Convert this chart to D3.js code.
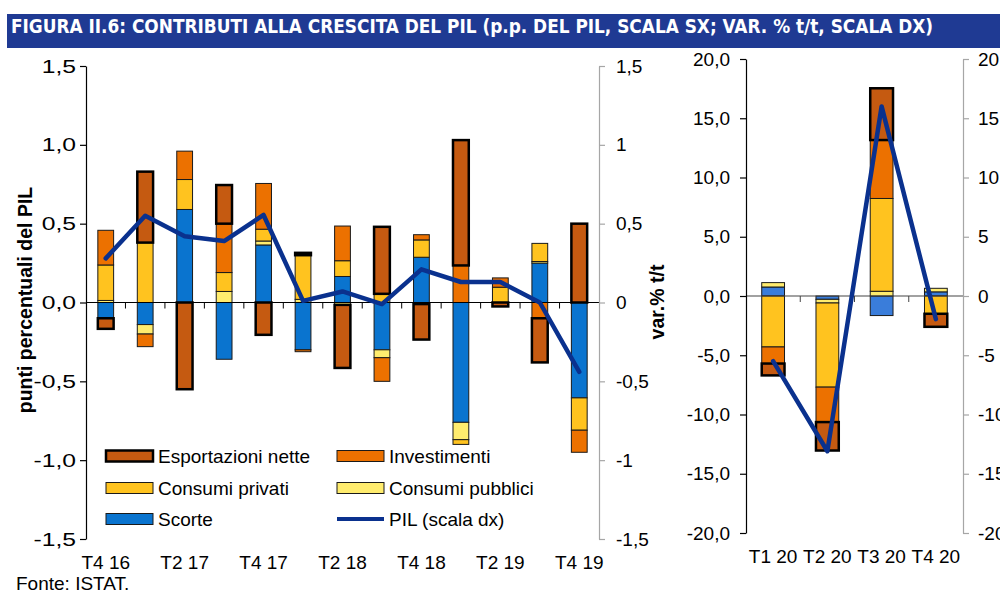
<!DOCTYPE html>
<html>
<head>
<meta charset="utf-8">
<script src="https://cdn.jsdelivr.net/npm/d3@7"></script>
<style>
  body { margin: 0; background: #fff; }
  svg { font-family: "Liberation Sans", Arial, sans-serif; display: block; }
</style>
</head>
<body>
<div id="chart"></div>
<script>
// --- data ---
const quartersLeft = ['T4 16', 'T1 17', 'T2 17', 'T3 17', 'T4 17', 'T1 18', 'T2 18',
                      'T3 18', 'T4 18', 'T1 19', 'T2 19', 'T3 19', 'T4 19'];
const quartersRight = ['T1 20', 'T2 20', 'T3 20', 'T4 20'];

const seriesKeys = ['Scorte', 'Consumi pubblici', 'Consumi privati', 'Investimenti', 'Esportazioni nette'];

const scorteLeft      = [-0.10, -0.14, 0.59, -0.36, 0.365, -0.30, 0.165, -0.30, 0.287, -0.76, 0.0, 0.25, -0.605];
const pubbliciLeft    = [0.013, -0.06, 0.0, 0.07, 0.025, 0.02, -0.015, -0.05, -0.01, -0.11, 0.0, 0.01, 0.0];
const privatiLeft     = [0.225, 0.38, 0.19, 0.12, 0.075, 0.28, 0.10, 0.055, 0.11, -0.03, 0.097, 0.115, -0.205];
const investimLeft    = [0.22, -0.08, 0.18, 0.31, 0.29, -0.012, 0.22, -0.15, 0.033, 0.235, 0.059, -0.10, -0.14];
const esportLeft      = [-0.067, 0.45, -0.55, 0.245, -0.205, 0.015, -0.40, 0.425, -0.225, 0.795, -0.025, -0.28, 0.50];
const pilLeft         = [0.28, 0.55, 0.42, 0.39, 0.555, 0.01, 0.07, -0.01, 0.21, 0.13, 0.13, 0.0, -0.44];

const scorteRight     = [0.76, -0.28, -1.65, 0.35];
const pubbliciRight   = [0.37, -0.31, 0.40, 0.30];
const privatiRight    = [-4.3, -7.1, 7.83, -1.5];
const investimRight   = [-1.4, -2.95, 4.93, 0.0];
const esportRight     = [-1.0, -2.4, 4.37, -1.1];
const pilRight        = [-5.5, -13.1, 16.0, -1.95];

const leftTicks  = [-1.5, -1, -0.5, 0, 0.5, 1, 1.5];
const rightTicks = [-20, -15, -10, -5, 0, 5, 10, 15, 20];

const titleText = 'FIGURA II.6: CONTRIBUTI ALLA CRESCITA DEL PIL (p.p. DEL PIL, SCALA SX; VAR. % t/t, SCALA DX)';

// --- styling ---
const colors = {
  'Scorte': '#0A74CF',
  'Consumi pubblici': '#FFEC6E',
  'Consumi privati': '#FFC31F',
  'Investimenti': '#EC7100',
  'Esportazioni nette': '#C55A11'
};
const pilColor = '#0A318E';
const fontSize = 19;

const itLocale = d3.formatLocale({ decimal: ',', thousands: '.', grouping: [3], currency: ['', '€'], minus: '-' });
const fmtFixed = itLocale.format('.1f');
const fmtGeneral = itLocale.format('~g');

const width = 1000, height = 594;

const svg = d3.select('#chart').append('svg')
  .attr('width', width)
  .attr('height', height);

// title bar
svg.append('rect')
  .attr('x', 7).attr('y', 14)
  .attr('width', 993).attr('height', 34)
  .attr('fill', '#1F3A93');

svg.append('text')
  .attr('x', 11).attr('y', 32.5)
  .attr('fill', '#fff')
  .attr('font-family', '"Liberation Sans Narrow", "DejaVu Sans Condensed", "Liberation Sans", sans-serif')
  .attr('font-weight', 'bold')
  .attr('font-size', 20)
  .attr('textLength', 922)
  .attr('lengthAdjust', 'spacingAndGlyphs')
  .text(titleText);

function buildRows(quarters, cols) {
  return quarters.map((q, i) => {
    const obj = { q };
    seriesKeys.forEach((k, j) => obj[k] = cols[j][i]);
    return obj;
  });
}

function drawPanel(cfg) {
  const rows = buildRows(cfg.quarters, cfg.cols);

  const x = d3.scaleBand()
    .domain(cfg.quarters)
    .range(cfg.xRange)
    .paddingInner(cfg.pad)
    .paddingOuter(cfg.pad / 2);

  const y = d3.scaleLinear()
    .domain([cfg.ticks[0], cfg.ticks[cfg.ticks.length - 1]])
    .range(cfg.yRange);

  const stacked = d3.stack()
    .keys(seriesKeys)
    .offset(d3.stackOffsetDiverging)(rows);

  const g = svg.append('g');

  // bars
  g.selectAll('g.layer')
    .data(stacked)
    .join('g')
      .attr('class', 'layer')
      .attr('fill', d => (d.key === 'Scorte' && cfg.scorteColor) ? cfg.scorteColor : colors[d.key])
      .attr('stroke', d => d.key === 'Esportazioni nette' ? '#000' : '#1a1a1a')
      .attr('stroke-width', d => d.key === 'Esportazioni nette' ? 2.5 : 1)
    .selectAll('rect')
    .data(d => d.filter(s => s[1] - s[0] !== 0))
    .join('rect')
      .attr('x', d => x(d.data.q))
      .attr('y', d => y(Math.max(d[0], d[1])))
      .attr('width', x.bandwidth())
      .attr('height', d => Math.abs(y(d[0]) - y(d[1])));

  // zero line with ticks at band boundaries
  const y0 = y(0);
  g.append('line')
    .attr('x1', cfg.xRange[0]).attr('x2', cfg.xRange[1])
    .attr('y1', y0).attr('y2', y0)
    .attr('stroke', cfg.zeroColor).attr('stroke-width', 1.2);

  g.selectAll('line.bound')
    .data(d3.range(1, cfg.quarters.length))
    .join('line')
      .attr('class', 'bound')
      .attr('x1', i => cfg.xRange[0] + i * x.step())
      .attr('x2', i => cfg.xRange[0] + i * x.step())
      .attr('y1', y0).attr('y2', y0 + 6)
      .attr('stroke', cfg.zeroColor).attr('stroke-width', 1);

  // left axis
  const leftAxis = g.append('g')
    .attr('transform', `translate(${cfg.xRange[0]},0)`)
    .call(d3.axisLeft(y).tickValues(cfg.ticks).tickSize(6).tickSizeOuter(0)
      .tickPadding(cfg.leftPad).tickFormat(fmtFixed));
  leftAxis.attr('font-size', fontSize).attr('font-family', null);
  leftAxis.selectAll('path, line').attr('stroke', '#000').attr('stroke-width', 1.2);
  leftAxis.selectAll('text').attr('fill', '#000');
  if (cfg.leftStretch) {
    // labels on this axis are drawn wider in the reference
    leftAxis.selectAll('text')
      .attr('transform', `translate(${-(6 + cfg.leftPad)},0) scale(${cfg.leftStretch},1)`)
      .attr('x', 0);
  }

  // right axis
  const rightAxis = g.append('g')
    .attr('transform', `translate(${cfg.xRange[1]},0)`)
    .call(d3.axisRight(y).tickValues(cfg.ticks).tickSize(6).tickSizeOuter(0)
      .tickPadding(cfg.rightPad).tickFormat(fmtGeneral));
  rightAxis.attr('font-size', fontSize).attr('font-family', null);
  rightAxis.selectAll('path, line').attr('stroke', '#A6A6A6').attr('stroke-width', 1.2);
  rightAxis.selectAll('text').attr('fill', '#000');

  // category labels
  const labels = cfg.quarters.filter((q, i) => i % cfg.labelEvery === 0);
  const xAxis = g.append('g')
    .attr('transform', `translate(0,${cfg.labelBaseline - 13.5})`)
    .call(d3.axisBottom(x).tickValues(labels).tickSize(0).tickPadding(0));
  xAxis.select('.domain').remove();
  xAxis.attr('font-size', fontSize).attr('font-family', null);
  xAxis.selectAll('text').attr('fill', '#000');

  // PIL line
  const line = d3.line()
    .x((d, i) => x(cfg.quarters[i]) + x.bandwidth() / 2)
    .y(d => y(d));

  g.append('path')
    .datum(cfg.pil)
    .attr('d', line)
    .attr('fill', 'none')
    .attr('stroke', pilColor)
    .attr('stroke-width', 4.5)
    .attr('stroke-linejoin', 'round')
    .attr('stroke-linecap', 'round');
}

drawPanel({
  quarters: quartersLeft,
  cols: [scorteLeft, pubbliciLeft, privatiLeft, investimLeft, esportLeft],
  pil: pilLeft,
  ticks: leftTicks,
  xRange: [86, 599],
  yRange: [539, 66],
  pad: 0.6,
  leftPad: 4,
  leftStretch: 1.3,
  rightPad: 11,
  zeroColor: '#000',
  labelEvery: 2,
  labelBaseline: 569
});

drawPanel({
  quarters: quartersRight,
  cols: [scorteRight, pubbliciRight, privatiRight, investimRight, esportRight],
  pil: pilRight,
  ticks: rightTicks,
  xRange: [746, 963],
  yRange: [533, 59],
  pad: 0.58,
  leftPad: 10,
  rightPad: 9,
  zeroColor: '#444',
  labelEvery: 1,
  labelBaseline: 563,
  scorteColor: '#3A7DDA'
});

// axis titles
svg.append('text')
  .attr('transform', 'translate(25,300) rotate(-90)')
  .attr('text-anchor', 'middle')
  .attr('dominant-baseline', 'central')
  .attr('font-weight', 'bold')
  .attr('font-size', 19.5)
  .text('punti percentuali del PIL');

svg.append('text')
  .attr('transform', 'translate(657,302) rotate(-90)')
  .attr('text-anchor', 'middle')
  .attr('dominant-baseline', 'central')
  .attr('font-weight', 'bold')
  .attr('font-size', 19.5)
  .text('var.% t/t');

// legend
const legendItems = [
  { key: 'Esportazioni nette', col: 0, row: 0 },
  { key: 'Investimenti', col: 1, row: 0 },
  { key: 'Consumi privati', col: 0, row: 1 },
  { key: 'Consumi pubblici', col: 1, row: 1 },
  { key: 'Scorte', col: 0, row: 2 },
  { key: 'PIL (scala dx)', col: 1, row: 2, isLine: true }
];
const legendColX = [106, 337];
const legendRowY = [456, 488, 519];

const legend = svg.append('g');
legendItems.forEach(it => {
  const lx = legendColX[it.col], ly = legendRowY[it.row];
  if (it.isLine) {
    legend.append('line')
      .attr('x1', lx).attr('x2', lx + 47)
      .attr('y1', ly).attr('y2', ly)
      .attr('stroke', pilColor).attr('stroke-width', 4);
  } else {
    legend.append('rect')
      .attr('x', lx).attr('y', ly - 5.5)
      .attr('width', 47).attr('height', 11)
      .attr('fill', colors[it.key])
      .attr('stroke', it.key === 'Esportazioni nette' ? '#000' : '#1a1a1a')
      .attr('stroke-width', it.key === 'Esportazioni nette' ? 2.5 : 1);
  }
  legend.append('text')
    .attr('x', lx + 52).attr('y', ly)
    .attr('dominant-baseline', 'central')
    .attr('font-size', fontSize)
    .text(it.key);
});

// source
svg.append('text')
  .attr('x', 16).attr('y', 590)
  .attr('font-size', fontSize)
  .text('Fonte: ISTAT.');
</script>
</body>
</html>
